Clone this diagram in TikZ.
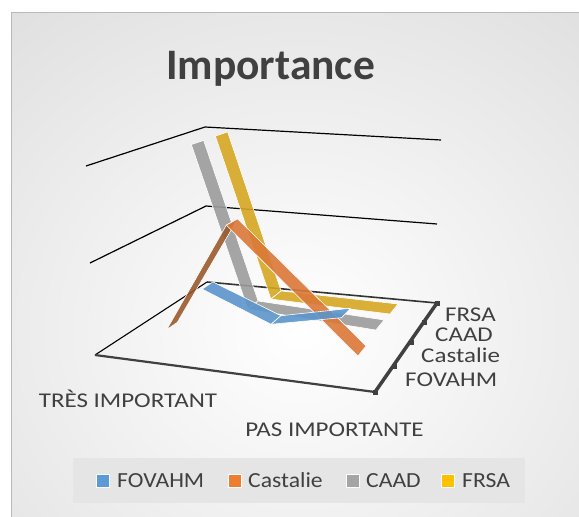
\documentclass[tikz,border=0pt]{standalone}
\usepackage{fontspec}
\usetikzlibrary{calc}
\setmainfont{Carlito}
\definecolor{txt}{HTML}{404040}
\definecolor{cblue}{HTML}{5B95CC}
\definecolor{corange}{HTML}{DB7838}
\definecolor{cbrown}{HTML}{9A5A2E}
\definecolor{cgrey}{HTML}{9C9C9C}
\definecolor{cgold}{HTML}{D6A722}
\definecolor{lblue}{HTML}{5B9BD5}
\definecolor{lorange}{HTML}{ED7D31}
\definecolor{lgrey}{HTML}{A5A5A5}
\definecolor{lgold}{HTML}{FFC000}
\tikzset{
  grid/.style={black, line width=1.2pt},
  ribbon/.style={draw=white, line width=0.6pt, line join=miter, fill opacity=0.9},
  lbl/.style={text=txt, font=\fontsize{21}{23}\selectfont, inner sep=0pt, xscale=1.19},
  leg/.style={text=txt, font=\fontsize{21.5}{23}\selectfont, inner sep=0pt, xscale=1.1, anchor=base west},
  legsq/.style={minimum size=13pt, inner sep=0pt, draw=white, line width=0.4pt},
  tick/.style={fill=txt, minimum size=5pt, inner sep=0pt}
}
% ribbon segment: colour, from, to (centre line); depth towards vanishing point vp
\newcommand\ribseg[3]{\filldraw[ribbon, fill=#1]
  ($(#2)!-6.5pt!(vp)$) -- ($(#3)!-6.5pt!(vp)$) -- ($(#3)!6.5pt!(vp)$) -- ($(#2)!6.5pt!(vp)$) -- cycle;}
\begin{document}
\begin{tikzpicture}[x=1pt,y=-1pt]
\useasboundingbox (0,0) rectangle (579,517);
\fill[white] (0,0) rectangle (579,517);
\begin{scope}
\clip (11,12) rectangle (579,517);
\shade[inner color=white, outer color=gray!45] (-540,-430) rectangle (1140,1090);
\end{scope}
\draw[gray!55, line width=1pt] (11,12) -- (11,530) (11,12) -- (590,12);
% title
\node[text=txt, font=\bfseries\fontsize{43.5}{48}\selectfont, inner sep=0pt, anchor=base] (title) at (270.5,79) {Importance};
% gridlines
\coordinate (vp) at (655,-10);
\coordinate (t1) at (86,166); \coordinate (t2) at (205,127); \coordinate (t3) at (441,140);
\coordinate (m1) at (90,263); \coordinate (m2) at (206,206); \coordinate (m3) at (437,224);
\draw[grid] (t1) -- (t2) -- (t3);
\draw[grid] (m1) -- (m2) -- (m3);
% floor
\coordinate (fl) at (95,355); \coordinate (bl) at (207,282);
\coordinate (br) at (437,303); \coordinate (fr) at (375,392);
\draw[black, line width=1.1pt] (fl) -- (bl);
\draw[black!80, line width=1.6pt] (bl) -- (br);
\draw[black!75, line width=2.2pt] (fl) -- (fr);
\draw[txt, line width=3.5pt] (fr) -- (br);
\node[tick] (k1) at (br) {};
\node[tick] (k2) at (424,322) {};
\node[tick] (k3) at (411,342) {};
\node[tick] (k4) at (394,366) {};
\node[tick] (k5) at (fr) {};
% series (back to front)
\coordinate (g1) at (221.5,134); \coordinate (g2) at (276,295); \coordinate (g3) at (394,309);
\ribseg{cgold}{g1}{g2}
\ribseg{cgold}{g2}{g3}
\coordinate (c1) at (197.5,142.5); \coordinate (c2) at (253,305); \coordinate (c3) at (380,325);
\ribseg{cgrey}{c1}{c2}
\ribseg{cgrey}{c2}{c3}
\coordinate (o1) at (172,326); \coordinate (o2) at (232,222); \coordinate (o3) at (362,351);
\ribseg{cbrown}{o1}{o2}
\ribseg{corange}{o2}{o3}
\coordinate (b1) at (207.5,285.5); \coordinate (b2) at (276,320); \coordinate (b3) at (346,313);
\ribseg{cblue}{b1}{b2}
\ribseg{cblue}{b2}{b3}
% axis labels
\node[lbl, anchor=base] (tres) at (128,407) {TRÈS IMPORTANT};
\node[lbl, anchor=base] (pas) at (334.5,436.5) {PAS IMPORTANTE};
\node[lbl, anchor=base west] (sFRSA) at (445,321.5) {FRSA};
\node[lbl, anchor=base west] (sCAAD) at (435,341) {CAAD};
\node[lbl, anchor=base west] (sCast) at (421,362.5) {Castalie};
\node[lbl, anchor=base west] (sFOV) at (405,386) {FOVAHM};
% legend
\fill[gray!20] (73,458) rectangle (525,503);
\node[legsq, fill=lblue] (q1) at (103,480.5) {};
\node[leg] (l1) at (117,487) {FOVAHM};
\node[legsq, fill=lorange] (q2) at (235,480.5) {};
\node[leg] (l2) at (248,487) {Castalie};
\node[legsq, fill=lgrey] (q3) at (353,480.5) {};
\node[leg] (l3) at (366,487) {CAAD};
\node[legsq, fill=lgold] (q4) at (448,480.5) {};
\node[leg] (l4) at (462,487) {FRSA};
\end{tikzpicture}
\end{document}
